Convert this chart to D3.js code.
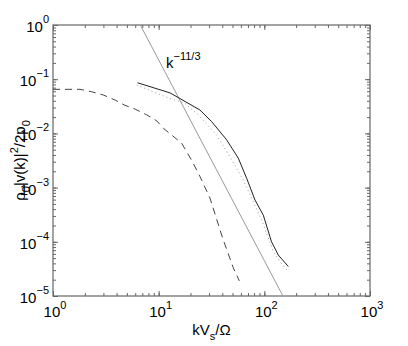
<!DOCTYPE html>
<html>
<head>
<meta charset="utf-8">
<script src="https://cdn.jsdelivr.net/npm/d3@7"></script>
<style>
  body { margin: 0; background: #fff; }
  svg text { font-family: "Liberation Sans", Arial, Helvetica, sans-serif; fill: #000; }
</style>
</head>
<body>
<div class="graphic"></div>
<script>
// values
var decadesX = [1, 10, 100, 1000];
var decadesY = [1e-5, 1e-4, 1e-3, 1e-2, 1e-1, 1];
var expX = ["0", "1", "2", "3"];
var expY = ["\u22125", "\u22124", "\u22123", "\u22122", "\u22121", "0"];

var solidK = [6.3, 12.8, 24.6, 31.8, 44.0, 56.7, 68.1, 81.6, 97.8, 117, 135.6, 168.6];
var solidV = [0.086, 0.056, 0.027, 0.0164, 0.0076, 0.0035, 0.00148, 5.9e-4, 3.1e-4, 1.0e-4, 5.7e-5, 3.5e-5];

var dottedK = [6.2, 12.8, 17.7, 23.7, 35.4, 47.3, 63.2, 94.4, 121.6, 140.6, 168.6];
var dottedV = [0.078, 0.044, 0.036, 0.022, 0.0093, 0.0037, 0.00138, 2.5e-4, 6.6e-5, 4.3e-5, 2.8e-5];

var dashedK = [1.0, 1.8, 2.3, 3.0, 3.9, 4.8, 6.0, 7.7, 9.6, 11.1, 16.5, 20.5, 24.6, 30.6, 40.3, 50.9, 58.0];
var dashedV = [0.065, 0.065, 0.059, 0.051, 0.041, 0.033, 0.028, 0.022, 0.017, 0.0124, 0.0066, 0.0032, 0.0016, 6.4e-4, 1.17e-4, 3.3e-5, 1.9e-5];

// k^-11/3 guide line, end points
var refK = [6.7, 150];
var refV = [1, 1e-5];

var width = 408, height = 346;
var padding = { top: 25, left: 53, right: 38, bottom: 50 };

var svg = d3.select(".graphic")
    .append("svg")
    .attr("width", width)
    .attr("height", height);

var x = d3.scaleLog()
    .domain([1, 1000])
    .range([padding.left, width - padding.right]);

var y = d3.scaleLog()
    .domain([1e-5, 1])
    .range([height - padding.bottom, padding.top]);

var x0 = x.range()[0], x1 = x.range()[1];
var y0 = y.range()[0], y1 = y.range()[1];

var axisColor = "#666";

// minor + major ticks, all pointing inward, on the four sides
function ticks(axisFn, scale, values, size, tx, ty) {
    svg.append("g")
        .attr("transform", `translate(${tx},${ty})`)
        .call(axisFn(scale).tickValues(values).tickSize(size).tickFormat(""))
        .call((g) => g.select(".domain").remove())
        .selectAll("line").attr("stroke", axisColor);
}

var minorX = x.ticks(), minorY = y.ticks();
ticks(d3.axisBottom, x, minorX, -3, 0, y0);
ticks(d3.axisBottom, x, decadesX, -5, 0, y0);
ticks(d3.axisTop, x, minorX, -3, 0, y1);
ticks(d3.axisTop, x, decadesX, -5, 0, y1);
ticks(d3.axisLeft, y, minorY, -3, x0, 0);
ticks(d3.axisLeft, y, decadesY, -5, x0, 0);
ticks(d3.axisRight, y, minorY, -3, x1, 0);
ticks(d3.axisRight, y, decadesY, -5, x1, 0);

svg.append("rect")
    .attr("x", x0).attr("y", y1)
    .attr("width", x1 - x0).attr("height", y0 - y1)
    .attr("fill", "none")
    .attr("stroke", axisColor)
    .attr("stroke-width", 1.2);

// tick labels
var xl = svg.append("g").selectAll("text")
    .data(decadesX)
    .join("text")
    .attr("x", (d) => x(d) + 2)
    .attr("y", y0 + 21)
    .attr("text-anchor", "middle")
    .style("font-size", "15px");
xl.append("tspan").text("10");
xl.append("tspan").attr("dy", -8).style("font-size", "11px").text((d, i) => expX[i]);

var yl = svg.append("g").selectAll("text")
    .data(decadesY)
    .join("text")
    .attr("x", x0 - 4)
    .attr("y", (d) => y(d) + 7)
    .attr("text-anchor", "end")
    .style("font-size", "15px");
yl.append("tspan").text("10");
yl.append("tspan").attr("dy", -9).style("font-size", "11px").text((d, i) => expY[i]);

// curves
svg.append("clipPath").attr("id", "plot-clip")
    .append("rect")
    .attr("x", x0).attr("y", y1)
    .attr("width", x1 - x0).attr("height", y0 - y1);

var line = d3.line()
    .x((d) => x(d[0]))
    .y((d) => y(d[1]));

var plot = svg.append("g").attr("clip-path", "url(#plot-clip)");

plot.append("path")
    .datum(d3.zip(refK, refV))
    .attr("d", line)
    .attr("fill", "none")
    .attr("stroke", "#999")
    .attr("stroke-width", 1);

plot.append("path")
    .datum(d3.zip(dashedK, dashedV))
    .attr("d", line)
    .attr("fill", "none")
    .attr("stroke", "#444")
    .attr("stroke-width", 1)
    .attr("stroke-dasharray", "7,5");

plot.append("path")
    .datum(d3.zip(dottedK, dottedV))
    .attr("d", line)
    .attr("fill", "none")
    .attr("stroke", "#999")
    .attr("stroke-width", 1)
    .attr("stroke-dasharray", "1,3");

plot.append("path")
    .datum(d3.zip(solidK, solidV))
    .attr("d", line)
    .attr("fill", "none")
    .attr("stroke", "#222")
    .attr("stroke-width", 1);

// k^-11/3 annotation
var ann = svg.append("text")
    .attr("x", 166)
    .attr("y", 68)
    .style("font-size", "15px");
ann.append("tspan").text("k");
ann.append("tspan").attr("dy", -8).style("font-size", "11px").text("\u221211/3");

// axis labels
var xlab = svg.append("text")
    .attr("x", (x0 + x1) / 2)
    .attr("y", 335)
    .attr("text-anchor", "middle")
    .style("font-size", "15px");
xlab.append("tspan").text("kV");
xlab.append("tspan").attr("dy", 5).style("font-size", "11px").text("s");
xlab.append("tspan").attr("dy", -5).text("/\u03A9");

var ylab = svg.append("text")
    .attr("transform", `translate(25,${(y0 + y1) / 2}) rotate(-90)`)
    .attr("text-anchor", "middle")
    .style("font-size", "15px");
ylab.append("tspan").text("\u03C1");
ylab.append("tspan").attr("dy", 5).style("font-size", "11px").text("0");
ylab.append("tspan").attr("dy", -5).text("|v(k)|");
ylab.append("tspan").attr("dy", -7).style("font-size", "11px").text("2");
ylab.append("tspan").attr("dy", 7).text("/2p");
ylab.append("tspan").attr("dy", 5).style("font-size", "11px").text("0");
</script>
</body>
</html>
